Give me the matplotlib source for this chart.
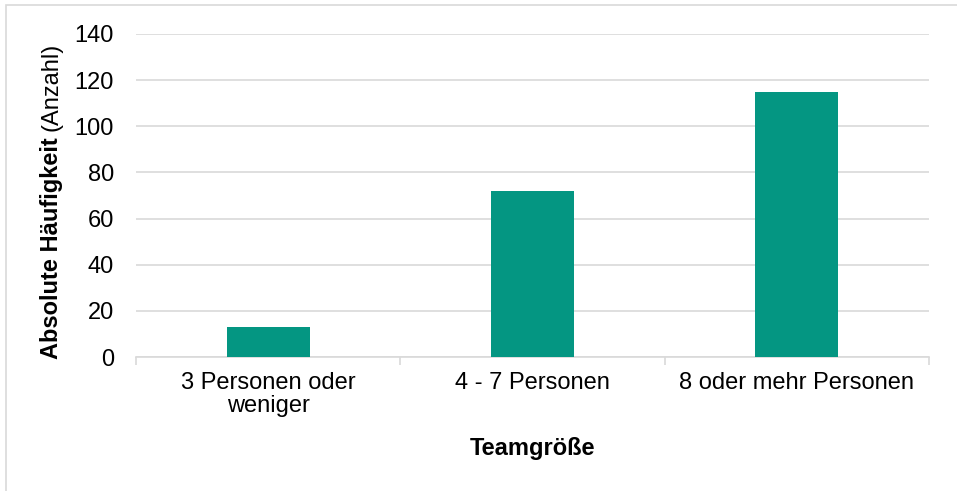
import matplotlib
matplotlib.use("Agg")
import matplotlib.pyplot as plt
from matplotlib.patches import Rectangle
from matplotlib.transforms import blended_transform_factory

categories = ["3 Personen oder\nweniger", "4 - 7 Personen", "8 oder mehr Personen"]
values = [13, 72, 115]
yticks = [0, 20, 40, 60, 80, 100, 120, 140]

plt.rcParams['font.family'] = ['Liberation Sans', 'DejaVu Sans']
FS = 17
W, H = 957, 491
fig = plt.figure(figsize=(W/100, H/100), dpi=100)
ax = fig.add_axes([136/W, 1-357/H, (929-136)/W, (357-34)/H])

x = list(range(len(categories)))
ax.bar(x, values, width=0.314, color="#049682", zorder=3)
ax.set_xlim(-0.5, len(categories)-0.5)
ax.set_ylim(0, 140)
ax.set_yticks(yticks)
ax.set_yticklabels([str(v) for v in yticks], fontsize=FS)
ax.yaxis.grid(True, color="#d9d9d9", linewidth=1.2, zorder=0)
ax.tick_params(axis='y', length=0, pad=16)
for s in ['top', 'right', 'left']:
    ax.spines[s].set_visible(False)
ax.spines['bottom'].set_color("#d9d9d9")
ax.spines['bottom'].set_linewidth(1.2)
ax.set_xticks([-0.5, 0.5, 1.5, 2.5])
ax.set_xticklabels([])
ax.tick_params(axis='x', length=6, color="#d9d9d9", width=1.2)
tr = blended_transform_factory(ax.transData, fig.transFigure)
for i, c in enumerate(categories):
    ax.text(i, 1-372/H, c, transform=tr, ha='center', va='top', fontsize=FS, linespacing=1.05)

fig.text(532/W, 1-449/H, "Teamgröße", ha='center', va='center', fontsize=FS, fontweight='bold')

# y label: bold part + regular part
t1 = fig.text(52/W, 1-359/H, "Absolute Häufigkeit", rotation=90, ha='center', va='bottom',
              fontsize=FS, fontweight='bold')
fig.canvas.draw()
bb = t1.get_window_extent()
fig.text(52/W, (bb.y1 + 6)/H, "(Anzahl)", rotation=90, ha='center', va='bottom', fontsize=FS)

fig.patches.append(Rectangle((6/W, -0.05), 1.0, 1-5/H+0.05, transform=fig.transFigure,
                             fill=False, edgecolor="#d9d9d9", linewidth=1.2))
fig.savefig("out.png", dpi=100)
